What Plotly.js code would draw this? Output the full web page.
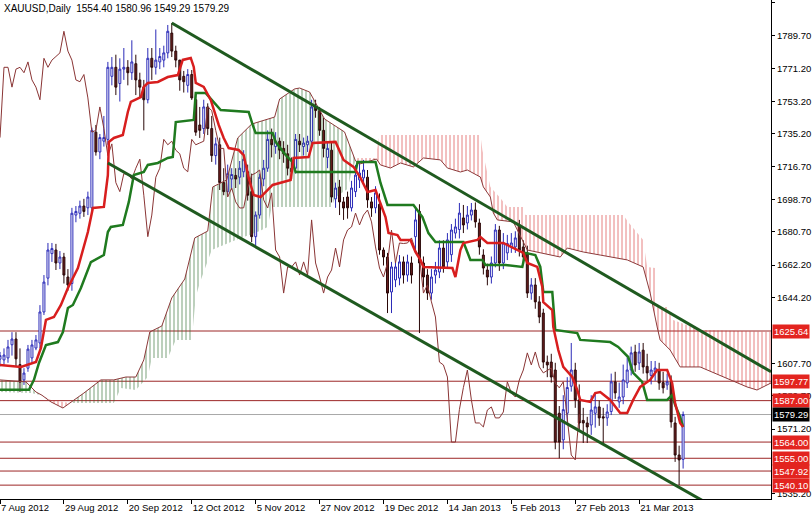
<!DOCTYPE html>
<html><head><meta charset="utf-8">
<script src="https://cdn.plot.ly/plotly-3.0.1.min.js"></script>
<style>html,body{margin:0;padding:0;background:#fff}#chart{width:812px;height:515px}</style>
</head><body><div id="chart"></div>
<script>
// ---- labels ----
const symbolText = "XAUUSD,Daily";
const lastOHLC = ["1554.40", "1580.96", "1549.29", "1579.29"];
const dateTickIdx = [0, 16, 32, 48, 64, 80, 96, 112, 128, 144, 160];
const dateTickText = ["7 Aug 2012", "29 Aug 2012", "20 Sep 2012", "12 Oct 2012", "5 Nov 2012", "27 Nov 2012",
  "19 Dec 2012", "14 Jan 2013", "5 Feb 2013", "27 Feb 2013", "21 Mar 2013"];
const priceTicks = [1807.70, 1789.70, 1771.20, 1753.20, 1735.20, 1716.70, 1698.70, 1680.70, 1662.20, 1644.20,
  1607.70, 1589.70, 1571.20, 1535.20];
const levels = [1625.64, 1597.77, 1587.00, 1564.00, 1555.00, 1547.92, 1540.10];
const lastPrice = 1579.29;

// ---- daily candles (bar index 0 = 7 Aug 2012) ----
const open = [1610,1609.6,1610.7,1618,1621.2,1607,1598.5,1605,1610.7,1616.2,1619,1636.2,1655,1668.6,1670.6,1663.4,1666.7,1655.6,1652,1690,
1691,1695,1694,1694,1736,1725,1731,1732,1767,1772,1763,1771,1772,1769,1774,1765,1761,1754,1777,1772,
1775,1776,1780,1791,1781,1776,1767,1762,1768,1754,1740,1738,1750,1738,1723,1729,1708,1703,1710,1712,
1711,1714,1714,1703,1678,1690,1710,1716,1732,1728,1731,1727,1724,1716,1716,1731,1728,1729,1731,1750,
1748,1737,1722,1726,1699,1705.6,1697.3,1700,1694,1703,1709.5,1710.6,1711,1697.3,1694,1696,1670.6,1666.7,1647.3,1654,
1655,1664,1656.7,1663.4,1678,1692,1663.4,1656.7,1646.7,1656.7,1658.4,1671.7,1664,1668,1680,1682,1688.4,1685.6,1690,1692.8,
1685.6,1667.8,1659.5,1655.6,1663.4,1681.7,1663.4,1669,1672.3,1672.3,1684.5,1672.3,1669,1646.7,1651.2,1641.8,1635.6,1608.4,1608.4,1604,
1580,1565.2,1580,1595,1604,1587.4,1576,1574.6,1573.5,1580,1583.5,1578,1577.4,1581,1597.4,1586.3,1589,1596.8,1604,1614,
1607.9,1615,1606,1601,1603,1604,1597,1595.7,1597.4,1574.6,1556.8,1554.40];
const high = [1614,1616,1620.7,1625,1625,1616,1605,1617.9,1620.7,1623.4,1640,1656.7,1674.5,1674.5,1674,1670,1669,1660,1694,1695,
1698,1699,1703,1738.5,1740,1735,1745,1775,1777.7,1779,1777,1782.7,1776,1787,1779,1769,1765,1782.7,1782.7,1793,
1782.7,1784,1795.5,1796.6,1784,1776.1,1770,1771,1770.5,1757,1750,1754,1752,1745,1733,1733,1716,1718,1716,1716,
1720,1726,1718,1713,1692,1713,1720.6,1737,1738,1736,1733,1731,1729,1722,1735,1735,1733,1734,1754,1754,
1750,1744,1731,1730,1708,1709.5,1700,1703,1709,1717.8,1719,1720.6,1715,1700,1706,1702,1672,1669,1664,1664,
1667.8,1667,1668,1667,1694,1696,1667,1660,1660,1664,1676,1676,1680,1685,1688,1696.7,1695.6,1695,1696.7,1697,
1688,1671,1663,1667,1685,1684,1680,1679,1680,1681,1687.3,1676,1673,1655,1655,1645,1638,1612,1613,1608,
1584,1590,1600,1619,1608,1596,1583,1578,1590,1591,1587,1583,1585,1602,1603,1597,1607,1611,1617,1618,
1619,1619,1613,1609,1609,1608,1603,1602,1601,1578,1562,1580.96];
const low = [1606,1607,1608,1612,1605.8,1591.8,1595.7,1603,1608,1615,1616,1634.5,1651,1664,1659.5,1660,1652,1648,1648,1686,
1688,1689,1690,1692,1723,1721,1728,1729,1762,1756.6,1753,1765,1762,1765,1756.6,1755,1737,1752,1765,1768,
1771,1772,1777,1777.7,1772,1759,1758,1758,1753.9,1734,1732.8,1735,1734.4,1719.5,1718,1703.9,1701,1701,1704,1705,
1707,1711,1698,1675,1672,1688,1706,1714,1722,1724,1721,1719,1712,1710,1713,1725,1723,1725,1729,1744,
1734,1722,1716,1697,1694,1690,1687.3,1688,1692,1700,1705,1707,1694,1689,1691,1668,1662,1635.6,1635.6,1650,
1651,1652,1653,1652,1670,1624.5,1650,1642.9,1643,1652,1655,1658,1661,1664,1677,1677,1680,1682,1687,1683,
1668,1657,1651,1652,1661,1659,1660,1665,1669,1669,1667,1663,1644,1643,1638,1630,1605,1600,1597,1560,
1555,1560,1575,1592,1583,1571,1563.5,1563.5,1568,1572,1573,1563.5,1573,1579,1588,1583,1585,1594,1601,1603,
1604,1602,1598,1596,1598,1593,1591,1593,1572,1553,1540.1,1549.29];
const close = [1612,1612.3,1616.8,1621.2,1610.2,1597.3,1602.3,1615.6,1617.9,1620.7,1636.2,1652.8,1670.6,1671.4,1663.4,1666.7,1656.7,1651.2,1691,1692,
1695,1692,1700,1737,1725,1733,1733,1772,1772,1761,1771,1772,1769,1775,1765,1761,1754,1777,1772,1776,
1778,1780,1792,1781,1776,1765,1764,1768,1755,1736,1737,1750,1738,1723,1729.5,1708,1703,1713,1712.5,1710,
1716,1721,1701,1678,1690,1711,1716,1732,1729,1731,1726,1724,1716,1714,1732,1729,1730,1731,1750,1748,
1737,1727,1727,1700,1705,1697.3,1693.9,1694,1705,1712.2,1713.3,1715,1698.4,1693.9,1702.3,1670.6,1666.7,1646.7,1661.2,1661.2,
1664,1656.7,1664,1656.7,1687.3,1663.4,1655.6,1646.7,1655.6,1659.5,1671.7,1661.2,1676.2,1681.7,1683.4,1691.1,1684.5,1690,1692.8,1686.2,
1672.3,1660.6,1655.6,1663.4,1681.7,1663.4,1674.5,1674.2,1674.5,1677.3,1670.6,1666.7,1646.7,1651.2,1641.8,1633.4,1608.4,1606.8,1600.1,1564,
1564,1582,1594.3,1604,1587.4,1574.6,1574.6,1572.4,1581.8,1583.5,1577.4,1577.4,1580.7,1597.4,1591.3,1589,1598.5,1604,1613.5,1606.8,
1614,1605.7,1602.4,1604,1605.1,1596.8,1594.1,1597.4,1575.2,1556.8,1554.1,1579.29];

// ---- Ichimoku lines (bar index, price) ----
const tenkanX = [0,5.25,9,10.25,11.5,13.5,15.25,17,19.5,22,23.25,26,27,27.25,28.5,30.75,32,32.75,35.25,36,37,39.5,42,44.5,45.75,47.75,48.5,49,51,52.75,54.75,56,57.25,59.75,61,62.25,63.5,65.25,68.25,72.75,73.5,77.25,78.25,84,86,88.5,90.25,92,94,95.25,96.5,97.25,99.5,100.25,102.75,104,105.25,106,113.25,114,115.25,116,119.5,120.25,122,126,131,132,134.5,135.75,136,138.25,138.5,139.75,141,143.25,144.5,145.25,147.75,149,150.25,152.75,155.25,157,158.5,160.25,162.75,164.5,167,168.25,169,170.25,171];
const tenkanY = [1606.8,1605.7,1608.5,1616.2,1631.8,1633.4,1640.1,1649.5,1660.6,1680.6,1693.9,1694.5,1712.2,1730.6,1732.8,1734.4,1747.2,1752.8,1755.5,1761.1,1763.3,1763.9,1766.6,1767.7,1776.1,1777.2,1772.2,1763.3,1761.1,1753.9,1740.0,1732.8,1727.2,1726.1,1723.3,1710.6,1701.1,1700.0,1706.7,1709.5,1721.7,1722.2,1730.0,1730.6,1720.6,1716.7,1710.6,1702.8,1703.9,1696.7,1688.9,1680.0,1678.9,1676.2,1676.2,1669.5,1665.1,1661.2,1660.6,1655.6,1670.6,1674.5,1676.2,1677.8,1674.5,1674.5,1669.0,1663.4,1661.2,1650.1,1641.7,1637.3,1627.9,1615.1,1605.7,1600.1,1592.9,1587.4,1586.3,1591.2,1591.8,1587.4,1580.1,1580.1,1587.4,1594.6,1598.5,1604.0,1604.0,1596.8,1585.7,1574.6,1572.4];
const kijunX = [0,7.25,8.5,9.75,11.5,14.5,15.75,17,18.25,20.25,22.75,24.75,26,27,27.75,30.75,32.25,33.5,36,37,39.5,42,43.25,44,48.5,49,51.5,55.25,62.25,63.25,64,68.25,69,71.5,73.25,74,89,89.5,94,95.25,97,103.5,105.75,107.25,109,116,117.75,120.75,121.5,126.5,130.75,131.5,134,135.25,136,138.25,139,144.5,145.25,152.75,154.75,157.25,158.5,160.75,162,167,168.25,169,170.25,171];
const kijunY = [1593.0,1593.0,1598.5,1607.9,1617.9,1619.5,1625.1,1638.4,1640.1,1649.5,1663.9,1666.2,1667.8,1680.6,1683.4,1684.5,1697.3,1712.2,1713.9,1717.8,1718.9,1721.7,1722.2,1741.6,1742.8,1757.7,1757.7,1748.3,1747.2,1740.0,1735.5,1735.5,1730.6,1723.3,1719.4,1713.9,1713.9,1719.4,1719.4,1707.8,1695.6,1695.6,1688.9,1680.0,1675.0,1675.0,1665.1,1665.1,1662.3,1662.3,1661.2,1669.0,1667.8,1661.2,1647.3,1647.3,1626.2,1624.5,1620.7,1619.5,1616.8,1611.2,1602.4,1597.4,1587.4,1587.4,1590.1,1584.6,1577.9,1572.4];
const spanAX = [0,6.5,9,10.5,12.75,15.75,17.5,21,25.25,28.5,31.5,34,36,37.5,40.5,43,46.25,48.75,52,53.25,56.75,58.25,59.5,63,68.75,70,73.75,75,77.5,81.25,86.25,89,90,94.25,95.25,97.75,100.25,103.5,106,110.25,112,115.25,117,120.25,121,122.75,123.5,124.5,128.5,132,140.25,142,146,150.25,153.5,157,161,162.75,164.5,165.25,167.75,170.25,175.25,182.75,187,189.5,193];
const spanAY = [1598.5,1597.4,1591.8,1590.0,1586.3,1582.9,1585.7,1591.2,1598.5,1598.5,1600.1,1600.1,1609.6,1625.1,1628.4,1644.0,1654.5,1677.3,1681.1,1705.6,1709.5,1722.2,1732.8,1740.5,1744.4,1754.4,1760.0,1760.5,1758.3,1743.3,1736.1,1720.0,1718.3,1721.1,1717.8,1716.1,1718.9,1716.7,1721.7,1720.6,1716.1,1713.9,1715.0,1711.1,1705.6,1700.0,1691.1,1687.3,1686.2,1670.6,1666.7,1671.7,1669.5,1667.8,1666.7,1665.1,1661.2,1646.7,1627.9,1620.7,1615.1,1605.7,1605.7,1598.5,1594.6,1592.9,1596.8];
const spanBX = [0,7.75,10.5,12.75,17.5,28.5,30.25,34,37,38,42,44,48,49,50,53,59,65,67,68,83,84,87,88,89,89.5,94,95,120.25,120.75,122.75,125.25,127,131,131.5,156,157.25,161,162,164,164.5,167,168.5,175.25,193];
const spanBY = [1591.8,1591.3,1590.0,1587.4,1585.7,1585.7,1594.0,1592.9,1600.1,1610.7,1610.7,1620.7,1620.7,1644.5,1652.3,1670.6,1676.2,1681.1,1683.4,1694.5,1694.5,1700.0,1704.5,1713.9,1720.0,1721.7,1721.7,1734.4,1734.4,1726.1,1705.6,1699.5,1694.5,1694.5,1690.0,1690.0,1686.2,1676.2,1661.2,1660.6,1639.0,1639.0,1631.8,1626.2,1625.1];
// cloud colour segments [from, to, kind]
const cloudSegments = [[0, 10.5, "up"], [10.5, 17.5, "down"], [17.5, 89, "up"], [89, 193, "down"]];
const chikouShift = 26;

// ---- channel trend lines (bar index, price) ----
const chanUpX = [43, 193], chanUpY = [1796.6, 1603.0];
const chanDnX = [27, 180], chanDnY = [1718.9, 1526.3];

// ---- build ----
const FONT = "Liberation Sans, Arial, sans-serif";
const idx = open.map((_, i) => i);
const traces = [];

function cloudPoly(s, e) {
  const xs = [], ys = [];
  spanAX.forEach((x, k) => { if (x >= s && x <= e) { xs.push(x); ys.push(spanAY[k]); } });
  for (let k = spanBX.length - 1; k >= 0; k--) {
    if (spanBX[k] >= s && spanBX[k] <= e) { xs.push(spanBX[k]); ys.push(spanBY[k]); }
  }
  return [xs, ys];
}
cloudSegments.forEach(([s, e, kind]) => {
  const [xs, ys] = cloudPoly(s, e);
  const col = kind === "up" ? "#2f6e2f" : "#d42a2a";
  traces.push({
    type: "scatter", mode: "lines", x: xs, y: ys, fill: "toself",
    fillcolor: "rgba(255,255,255,0)", line: { width: 0 },
    fillpattern: { shape: "|", size: 4, solidity: 0.25, fgcolor: col, fgopacity: kind === "up" ? 0.65 : 0.6, bgcolor: "rgba(255,255,255,0)" },
    hoverinfo: "skip", showlegend: false
  });
});
// Senkou span A border line
traces.push({ type: "scatter", mode: "lines", x: spanAX, y: spanAY, line: { color: "#8c3a3a", width: 1 }, hoverinfo: "skip", showlegend: false });

// chikou span: closes shifted back 26 bars
traces.push({
  type: "scatter", mode: "lines",
  x: idx.slice(0, idx.length - chikouShift), y: close.slice(chikouShift),
  line: { color: "#8a3535", width: 1 }, hoverinfo: "skip", showlegend: false
});

traces.push({
  type: "candlestick", x: idx, open: open, high: high, low: low, close: close,
  increasing: { line: { color: "#2b2bb8", width: 1 }, fillcolor: "#ffffff" },
  decreasing: { line: { color: "#2a0808", width: 1 }, fillcolor: "#6a1e1e" },
  whiskerwidth: 0, hoverinfo: "skip", showlegend: false
});

traces.push({ type: "scatter", mode: "lines", x: kijunX, y: kijunY, line: { color: "#1f7a1f", width: 2.5 }, hoverinfo: "skip", showlegend: false });
traces.push({ type: "scatter", mode: "lines", x: tenkanX, y: tenkanY, line: { color: "#d81e1e", width: 2.5 }, hoverinfo: "skip", showlegend: false });

traces.push({ type: "scatter", mode: "lines", x: chanUpX, y: chanUpY, line: { color: "#1f5a1f", width: 3 }, hoverinfo: "skip", showlegend: false });
traces.push({ type: "scatter", mode: "lines", x: chanDnX, y: chanDnY, line: { color: "#1f5a1f", width: 3 }, hoverinfo: "skip", showlegend: false });

const shapes = levels.map(v => ({
  type: "line", xref: "paper", x0: 0, x1: 1, yref: "y", y0: v, y1: v,
  line: { color: "#9c2626", width: 1 }, layer: "below"
}));
shapes.push({ type: "line", xref: "paper", x0: 0, x1: 1, yref: "y", y0: lastPrice, y1: lastPrice, line: { color: "#a8a8a8", width: 1 }, layer: "below" });

const annotations = levels.map(v => ({
  xref: "paper", x: 1, xanchor: "left", xshift: 1, yref: "y", y: v, yanchor: "middle",
  text: v.toFixed(2), showarrow: false, bgcolor: "#e3241f", borderpad: 1,
  font: { family: FONT, size: 9.5, color: "#ffffff" }
}));
annotations.push({
  xref: "paper", x: 1, xanchor: "left", xshift: 1, yref: "y", y: lastPrice, yanchor: "middle",
  text: lastPrice.toFixed(2), showarrow: false, bgcolor: "#000000", borderpad: 1,
  font: { family: FONT, size: 9.5, color: "#ffffff" }
});
annotations.push({
  xref: "paper", yref: "paper", x: 0, y: 1, xanchor: "left", yanchor: "top", xshift: 2, yshift: -1,
  text: symbolText + "\u00a0\u00a0" + lastOHLC.join(" "), showarrow: false,
  font: { family: FONT, size: 10, color: "#000000" }
});

const layout = {
  width: 812, height: 515,
  margin: { l: 0, r: 41, t: 0, b: 16, pad: 0 },
  paper_bgcolor: "#ffffff", plot_bgcolor: "#ffffff",
  showlegend: false,
  xaxis: {
    range: [0, 193], tickmode: "array", tickvals: dateTickIdx, ticktext: dateTickText,
    ticks: "outside", ticklen: 4, tickcolor: "#000", showline: true, linecolor: "#000", linewidth: 1,
    showgrid: false, zeroline: false, ticklabelposition: "outside right",
    tickfont: { family: FONT, size: 9.5, color: "#000" }, rangeslider: { visible: false }, fixedrange: true
  },
  yaxis: {
    side: "right", range: [1532.4, 1809.36], tickmode: "array", tickvals: priceTicks,
    ticktext: priceTicks.map(v => v.toFixed(2)),
    ticks: "outside", ticklen: 3, tickcolor: "#000", showline: true, linecolor: "#000", linewidth: 1,
    showgrid: false, zeroline: false, tickfont: { family: FONT, size: 9.5, color: "#000" }, fixedrange: true
  },
  shapes: shapes, annotations: annotations
};

Plotly.newPlot("chart", traces, layout, { staticPlot: true, displayModeBar: false });
</script>
</body></html>
